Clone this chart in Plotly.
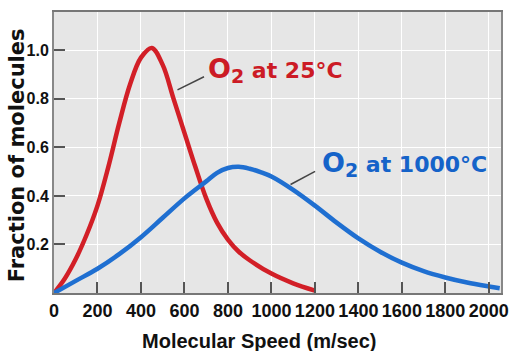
import plotly.graph_objects as go

# Data
speed_25 = [0, 50, 100, 150, 200, 250, 300, 350, 400, 450, 500, 550, 600, 650, 700, 750, 800, 850, 900, 1000, 1100, 1200]
frac_25 = [0, 0.06, 0.14, 0.24, 0.36, 0.52, 0.70, 0.86, 0.97, 1.01, 0.94, 0.80, 0.66, 0.52, 0.39, 0.29, 0.22, 0.17, 0.135, 0.08, 0.04, 0.01]

speed_1000 = [0, 100, 200, 300, 400, 500, 600, 700, 750, 800, 850, 900, 950, 1000, 1100, 1200, 1300, 1400, 1500, 1600, 1700, 1800, 1900, 2000, 2050]
frac_1000 = [0, 0.05, 0.10, 0.16, 0.23, 0.31, 0.39, 0.46, 0.495, 0.515, 0.52, 0.512, 0.498, 0.48, 0.425, 0.36, 0.29, 0.225, 0.17, 0.125, 0.09, 0.064, 0.043, 0.027, 0.02]

x_ticks = [0, 200, 400, 600, 800, 1000, 1200, 1400, 1600, 1800, 2000]
y_ticks = [0.2, 0.4, 0.6, 0.8, 1.0]
y_tick_labels = ["0.2", "0.4", "0.6", "0.8", "1.0"]

RED = "#d21f27"
BLUE = "#1f6fd1"
RED_TXT = "#cc1b25"
BLUE_TXT = "#1563c9"

fig = go.Figure()
fig.add_trace(go.Scatter(x=speed_25, y=frac_25, mode="lines",
                         line=dict(color=RED, width=4.5, shape="spline", smoothing=1.0),
                         showlegend=False))
fig.add_trace(go.Scatter(x=speed_1000, y=frac_1000, mode="lines",
                         line=dict(color=BLUE, width=4.5, shape="spline", smoothing=1.0),
                         showlegend=False))

fig.update_layout(
    width=512, height=351,
    margin=dict(l=54, r=3, t=12, b=58),
    paper_bgcolor="white",
    plot_bgcolor="#e6e6e6",
    showlegend=False,
    font=dict(family="Arial", color="#111"),
    xaxis=dict(range=[0, 2056], tickvals=x_ticks, ticktext=[str(v) for v in x_ticks],
               ticks="inside", ticklen=11, tickwidth=2, tickcolor="#555",
               showgrid=True, gridcolor="white", gridwidth=1, zeroline=False,
               showline=True, linecolor="#777", linewidth=2, mirror=True,
               ticklabeloverflow="allow",
               tickfont=dict(family="Arial", size=18, color="#111", weight="bold")),
    yaxis=dict(range=[0, 1.158], tickvals=y_ticks, ticktext=y_tick_labels,
               ticks="inside", ticklen=11, tickwidth=2, tickcolor="#555",
               showgrid=True, gridcolor="white", gridwidth=1, zeroline=False,
               showline=True, linecolor="#888", linewidth=2, mirror=True,
               tickfont=dict(family="Arial", size=16, color="#111", weight="bold")),
)

# Axis titles
fig.add_annotation(text="Molecular Speed (m/sec)", xref="paper", yref="paper",
                   x=0.46, y=0, yshift=-48, xanchor="center", yanchor="middle",
                   showarrow=False, font=dict(family="Arial", size=20, color="#111", weight="bold"))
fig.add_annotation(text="Fraction of molecules", xref="paper", yref="paper",
                   x=0, y=0.49, xshift=-37, xanchor="center", yanchor="middle", textangle=-90,
                   showarrow=False, font=dict(family="DejaVu Sans", size=21, color="#111", weight="bold"))

# Curve labels
fig.add_annotation(text='<span style="font-size:27px">O</span><sub><span style="font-size:19px">2</span></sub> at 25°C',
                   x=700, y=0.92, xanchor="left", yanchor="middle", showarrow=False,
                   font=dict(family="DejaVu Sans", size=22, color=RED_TXT, weight="bold"))
fig.add_annotation(text='<span style="font-size:27px">O</span><sub><span style="font-size:19px">2</span></sub> at 1000°C',
                   x=1222, y=0.53, xanchor="left", yanchor="middle", showarrow=False,
                   font=dict(family="DejaVu Sans", size=22, color=BLUE_TXT, weight="bold"))

# Leader lines
fig.add_shape(type="line", x0=568, y0=0.837, x1=690, y1=0.891, line=dict(color="#444", width=1.5))
fig.add_shape(type="line", x0=1088, y0=0.447, x1=1201, y1=0.501, line=dict(color="#444", width=1.5))

fig.write_html("out.html")
